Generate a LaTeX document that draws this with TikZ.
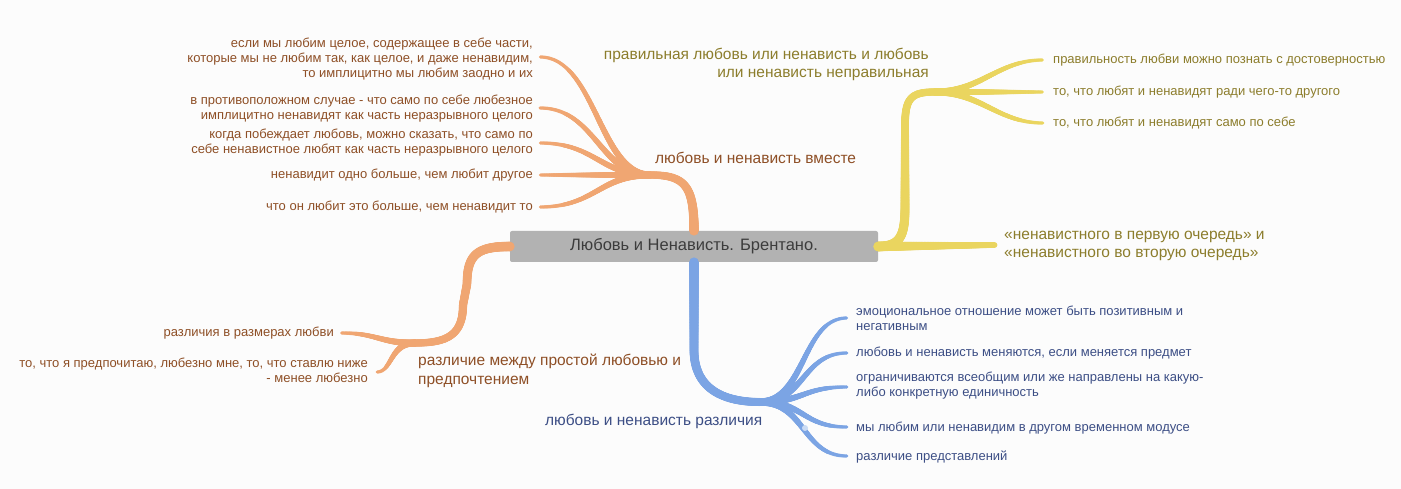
\documentclass[tikz,border=0pt]{standalone}
\usepackage{fontspec}
\setmainfont{Liberation Sans}
\usetikzlibrary{decorations.markings}
\definecolor{bgc}{HTML}{FCFCFC}
\definecolor{oline}{HTML}{F0A672}
\definecolor{yline}{HTML}{EAD55F}
\definecolor{bline}{HTML}{7BA4E4}
\definecolor{otxt}{HTML}{8E4F26}
\definecolor{ytxt}{HTML}{8C7D2C}
\definecolor{btxt}{HTML}{3C4E85}
\definecolor{rootfill}{HTML}{B2B2B2}
\definecolor{roottxt}{HTML}{3C3C3C}
\tikzset{
  taper/.style n args={3}{decoration={markings,
     mark=between positions 0 and 1 step 0.6pt with {%
       \pgfmathsetmacro\rr{#1+(#2-#1)*\pgfkeysvalueof{/pgf/decoration/mark info/distance from start}/\pgfdecoratedpathlength}%
       \fill[#3] (0,0) circle[radius=\rr pt];}}, decorate},
  leaftxt/.style={inner sep=0pt, font=\fontsize{13}{15}\selectfont},
  labtxt/.style={inner sep=0pt, font=\fontsize{15.5}{18.5}\selectfont},
  rootbox/.style={fill=rootfill, text=roottxt, rounded corners=2pt, minimum width=368pt, minimum height=31pt, inner sep=0pt, font=\fontsize{16.5}{18}\selectfont},
}
\begin{document}
\begin{tikzpicture}[x=1pt,y=-1pt]
\useasboundingbox (0,0) rectangle (1401,489);
\fill[bgc] (0,0) rectangle (1401,489);

% joints and leaf ends
\coordinate (o1) at (650,175);
\coordinate (y1) at (935,92);
\coordinate (ycA) at (905,205);
\coordinate (ycB) at (905,126);
\coordinate (y2) at (995,245);
\coordinate (b1) at (760,402);
\coordinate (bturn) at (694,350);
\coordinate (o2) at (415,343);
\coordinate (ocA) at (467,284);
\coordinate (ocB) at (463,305);
\coordinate (ol1) at (540,57);
\coordinate (ol2) at (540,108);
\coordinate (ol3) at (540,143);
\coordinate (ol4) at (540,175);
\coordinate (ol5) at (540,207);
\coordinate (yl1) at (1043,60);
\coordinate (yl2) at (1043,92);
\coordinate (yl3) at (1043,123);
\coordinate (bl1) at (847,318);
\coordinate (bl2) at (847,353);
\coordinate (bl3) at (847,387);
\coordinate (bl4) at (847,427);
\coordinate (bl5) at (847,456);
\coordinate (ol6) at (341,333);
\coordinate (ol7) at (377,372);

\node[rootbox] (root) at (694,246.5) {Любовь и Ненависть. Брентано.};

% main branches
\path[taper={4.8}{3.6}{oline}] (root.north) .. controls +(0,-45) and +(35,0) .. (o1);
\path[taper={4.8}{3.6}{yline}] (root.east) .. controls +(24,0) and +(0,28) .. (ycA) -- (ycB) .. controls +(0,-28) and +(-24,0) .. (y1);
\path[taper={4.8}{2.8}{yline}] (root.east) -- (y2);
\path[taper={4.8}{4.0}{bline}] (root.south) -- (bturn) .. controls +(0,40) and +(-35,0) .. (b1);
\path[taper={4.8}{3.6}{oline}] (root.west) .. controls +(-32,0) and +(0,-30) .. (ocA) -- (ocB) .. controls +(0,30) and +(32,0) .. (o2);

% orange top leaves
\foreach \l in {ol1,ol2,ol3,ol4,ol5}
  \path[taper={3.6}{1.6}{oline}] (o1) .. controls +(-50,0) and +(55,0) .. (\l);
% yellow leaves
\foreach \l in {yl1,yl2,yl3}
  \path[taper={3.6}{1.6}{yline}] (y1) .. controls +(45,0) and +(-45,0) .. (\l);
% blue leaves
\foreach \l in {bl1,bl2,bl3,bl4,bl5}
  \path[taper={3.8}{1.6}{bline}] (b1) .. controls +(45,0) and +(-45,0) .. (\l);
% orange lower leaves
\path[taper={3.6}{1.6}{oline}] (o2) .. controls +(-35,0) and +(35,0) .. (ol6);
\path[taper={3.6}{1.6}{oline}] (o2) .. controls +(-25,0) and +(15,0) .. (ol7);
\fill[bline!40!white] (805,428) circle[radius=3pt];

% labels of main branches
\node[labtxt, text=otxt, anchor=west] (lab1) at (655,158) {любовь и ненависть вместе};
\node[labtxt, text=ytxt, anchor=east, align=right] (lab2) at (929,64.5) {правильная любовь или ненависть и любовь\\или ненависть неправильная};
\node[labtxt, text=ytxt, anchor=west, align=left] (lab3) at (1004,246) {«ненавистного в первую очередь» и\\«ненавистного во вторую очередь»};
\node[labtxt, text=btxt, anchor=west] (lab4) at (545,421) {любовь и ненависть различия};
\node[labtxt, text=otxt, anchor=west, align=left] (lab5) at (418,371) {различие между простой любовью и\\предпочтением};

% orange top leaf texts
\node[leaftxt, text=otxt, anchor=east, align=right] (t1) at (533,59) {если мы любим целое, содержащее в себе части,\\которые мы не любим так, как целое, и даже ненавидим,\\то имплицитно мы любим заодно и их};
\node[leaftxt, text=otxt, anchor=east, align=right] (t2) at (533,108.5) {в противоположном случае - что само по себе любезное\\имплицитно ненавидят как часть неразрывного целого};
\node[leaftxt, text=otxt, anchor=east, align=right] (t3) at (533,142.5) {когда побеждает любовь, можно сказать, что само по\\себе ненавистное любят как часть неразрывного целого};
\node[leaftxt, text=otxt, anchor=east] (t4) at (533,175) {ненавидит одно больше, чем любит другое};
\node[leaftxt, text=otxt, anchor=east] (t5) at (533,207) {что он любит это больше, чем ненавидит то};

% yellow leaf texts
\node[leaftxt, text=ytxt, anchor=west] (t6) at (1053,60) {правильность любви можно познать с достоверностью};
\node[leaftxt, text=ytxt, anchor=west] (t7) at (1053,92) {то, что любят и ненавидят ради чего-то другого};
\node[leaftxt, text=ytxt, anchor=west] (t8) at (1053,123) {то, что любят и ненавидят само по себе};

% blue leaf texts
\node[leaftxt, text=btxt, anchor=west, align=left] (t9) at (856,318) {эмоциональное отношение может быть позитивным и\\негативным};
\node[leaftxt, text=btxt, anchor=west] (t10) at (856,353) {любовь и ненависть меняются, если меняется предмет};
\node[leaftxt, text=btxt, anchor=west, align=left] (t11) at (856,386) {ограничиваются всеобщим или же направлены на какую-\\либо конкретную единичность};
\node[leaftxt, text=btxt, anchor=west] (t12) at (856,428) {мы любим или ненавидим в другом временном модусе};
\node[leaftxt, text=btxt, anchor=west] (t13) at (856,457) {различие представлений};

% orange lower leaf texts
\node[leaftxt, text=otxt, anchor=east] (t14) at (334,333) {различия в размерах любви};
\node[leaftxt, text=otxt, anchor=east, align=right] (t15) at (368,370) {то, что я предпочитаю, любезно мне, то, что ставлю ниже\\- менее любезно};
\end{tikzpicture}
\end{document}
